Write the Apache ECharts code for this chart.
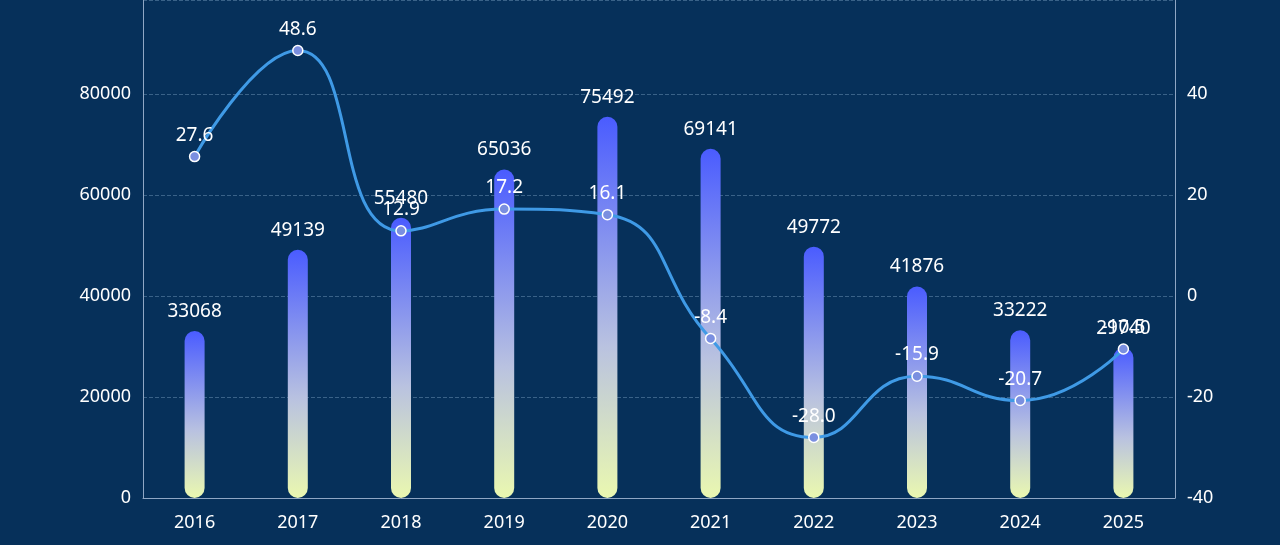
<!DOCTYPE html>
<html>
<head>
<meta charset="utf-8">
<script src="https://cdn.jsdelivr.net/npm/echarts@6/dist/echarts.min.js"></script>
<style>
html,body{margin:0;padding:0;background:#06305a;}
#main{width:1280px;height:545px;}
</style>
</head>
<body>
<div id="main"></div>
<script>
// 年份、数量、增长率
var years = ['2016', '2017', '2018', '2019', '2020', '2021', '2022', '2023', '2024', '2025']
var amount = [33068, 49139, 55480, 65036, 75492, 69141, 49772, 41876, 33222, 29740]
var rate = [27.6, 48.6, 12.9, 17.2, 16.1, -8.4, -28.0, -15.9, -20.7, -10.5]

var myChart = echarts.init(document.getElementById('main'))
var axisText = { color: '#ffffff', fontSize: 18, fontFamily: 'Noto Sans' }
myChart.setOption({
  backgroundColor: '#06305a',
  grid: { left: 143, right: 105, top: 0, bottom: 47 },
  xAxis: {
    type: 'category',
    data: years,
    axisTick: { show: false },
    axisLine: { lineStyle: { color: '#8fa6c4' } },
    axisLabel: Object.assign({ margin: 16 }, axisText)
  },
  yAxis: [{
    type: 'value', min: 0, max: 98614, interval: 20000,
    axisLine: { show: true, lineStyle: { color: '#8fa6c4' } },
    axisLabel: Object.assign({ margin: 12, showMaxLabel: false, formatter: function (v) { return String(v) } }, axisText),
    splitLine: { lineStyle: { color: '#3a6288', type: 'dashed' } }
  }, {
    type: 'value', min: -40, max: 58.6, interval: 20,
    axisLine: { show: true, lineStyle: { color: '#8fa6c4' } },
    axisLabel: Object.assign({ margin: 12, showMaxLabel: false }, axisText),
    splitLine: { show: false }
  }],
  series: [{
    type: 'bar',
    data: amount,
    barWidth: 20,
    itemStyle: {
      borderRadius: 10,
      color: new echarts.graphic.LinearGradient(0, 0, 0, 1, [
        { offset: 0, color: '#4a5cff' },
        { offset: 0.6, color: '#b9c2e0' },
        { offset: 1, color: '#eaf8b0' }
      ])
    },
    label: { show: true, position: 'top', distance: 10, color: '#fff', fontSize: 19, fontFamily: 'Noto Sans' }
  }, {
    type: 'line',
    yAxisIndex: 1,
    data: rate,
    smooth: true,
    symbol: 'circle',
    symbolSize: 10,
    lineStyle: { color: '#3f9ae6', width: 3 },
    itemStyle: { color: '#7a8fe0', borderColor: '#ffffff', borderWidth: 1.5 },
    label: {
      show: true, position: 'top', distance: 6, color: '#fff', fontSize: 19, fontFamily: 'Noto Sans',
      formatter: function (p) { return p.value.toFixed(1) }
    }
  }]
})
</script>
</body>
</html>
